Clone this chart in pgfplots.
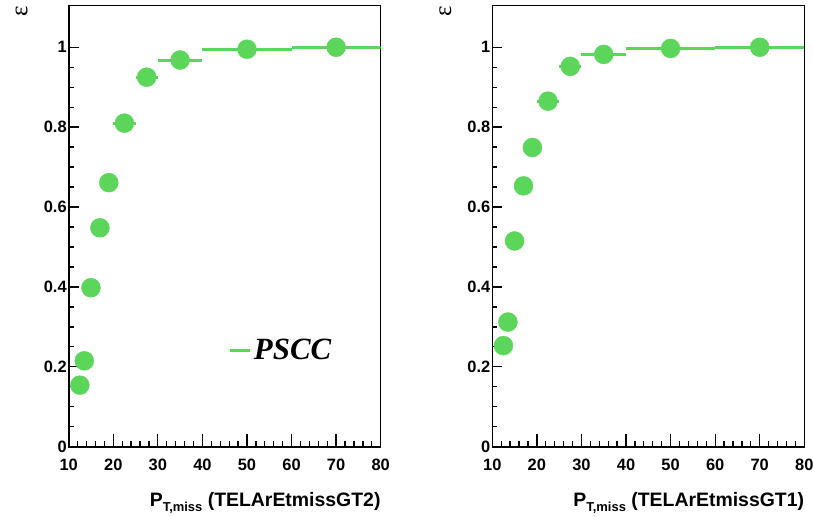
\documentclass[border=0pt]{standalone}
\usepackage{pgfplots}
\pgfplotsset{compat=1.18}
\usepackage{pgfplotstable}
\usepackage{fontspec}
\setmainfont{Liberation Sans}
\newfontfamily\seriffont{Liberation Serif}
\definecolor{pgreen}{RGB}{91,214,91}

\pgfplotstableread{
x y ex
12.5 0.154 0.5
13.5 0.215 0.5
15 0.398 1
17 0.548 1
19 0.661 1
22.5 0.810 2.5
27.5 0.925 2.5
35 0.968 5
50 0.995 10
70 1.000 10
}\tabA
\pgfplotstableread{
x y ex
12.5 0.253 0.5
13.5 0.312 0.5
15 0.515 1
17 0.653 1
19 0.749 1
22.5 0.865 2.5
27.5 0.952 2.5
35 0.982 5
50 0.997 10
70 1.000 10
}\tabB

\pgfplotsset{
  rootstyle/.style={
    scale only axis,
    width=312bp, height=441bp,
    xmin=10, xmax=80, ymin=0, ymax=1.104,
    xtick={10,20,...,80},
    ytick={0,0.2,...,1.0},
    minor x tick num=4,
    minor y tick num=3,
    xtick pos=bottom, ytick pos=left,
    tick align=inside,
    major x tick style={/pgfplots/major tick length=13bp, line width=1.3bp, black},
    minor x tick style={/pgfplots/minor tick length=6bp, line width=1.3bp, black},
    major y tick style={/pgfplots/major tick length=10bp, line width=1.3bp, black},
    minor y tick style={/pgfplots/minor tick length=5bp, line width=1.3bp, black},
    axis line style={line width=1.6bp},
    /pgf/number format/assume math mode=true,
    ticklabel style={font=\bfseries\fontsize{16.5}{16.5}\selectfont},
    xticklabel style={yshift=-9bp},
    yticklabel style={xshift=1.5bp},
    every axis x label/.style={at={(rel axis cs:1,0)}, anchor=base east, yshift=-60bp, inner sep=0pt, font=\bfseries\fontsize{19.5}{19.5}\selectfont},
    every axis y label/.style={at={(rel axis cs:0,1)}, xshift=-47bp, yshift=-6bp, rotate=90, anchor=center, font=\seriffont\fontsize{25}{25}\selectfont},
    ylabel={ε},
  },
  datastyle/.style={
    only marks, mark=*, mark size=9.5bp,
    mark options={draw=pgreen, fill=pgreen},
    error bars/.cd, x dir=both, x explicit, error mark=none,
    error bar style={line width=3bp, pgreen},
  },
}

\begin{document}
\begin{tikzpicture}
\useasboundingbox (0,0) rectangle (813bp,517bp);
\begin{axis}[rootstyle,
  at={(68.7bp,70.3bp)}, anchor=south west,
  xlabel={P\raisebox{-4.5bp}{\fontsize{13}{13}\selectfont T,miss} (TELArEtmissGT2)},
  legend style={at={(axis cs:45.8,0.242)}, anchor=west, draw=none, fill=none, inner sep=0pt,
    font=\seriffont\bfseries\itshape\fontsize{31}{31}\selectfont,
    nodes={inner sep=2.5bp}},
]
\addplot+[forget plot, datastyle] table[x=x, y=y, x error=ex] {\tabA};
\addlegendimage{legend image code/.code={\draw[line width=3bp, pgreen] (0bp,0bp) -- (20bp,0bp);}}
\addlegendentry{PSCC}
\end{axis}
\begin{axis}[rootstyle,
  at={(492.3bp,70.3bp)}, anchor=south west,
  xlabel={P\raisebox{-4.5bp}{\fontsize{13}{13}\selectfont T,miss} (TELArEtmissGT1)},
]
\addplot+[datastyle] table[x=x, y=y, x error=ex] {\tabB};
\end{axis}
\end{tikzpicture}
\end{document}
